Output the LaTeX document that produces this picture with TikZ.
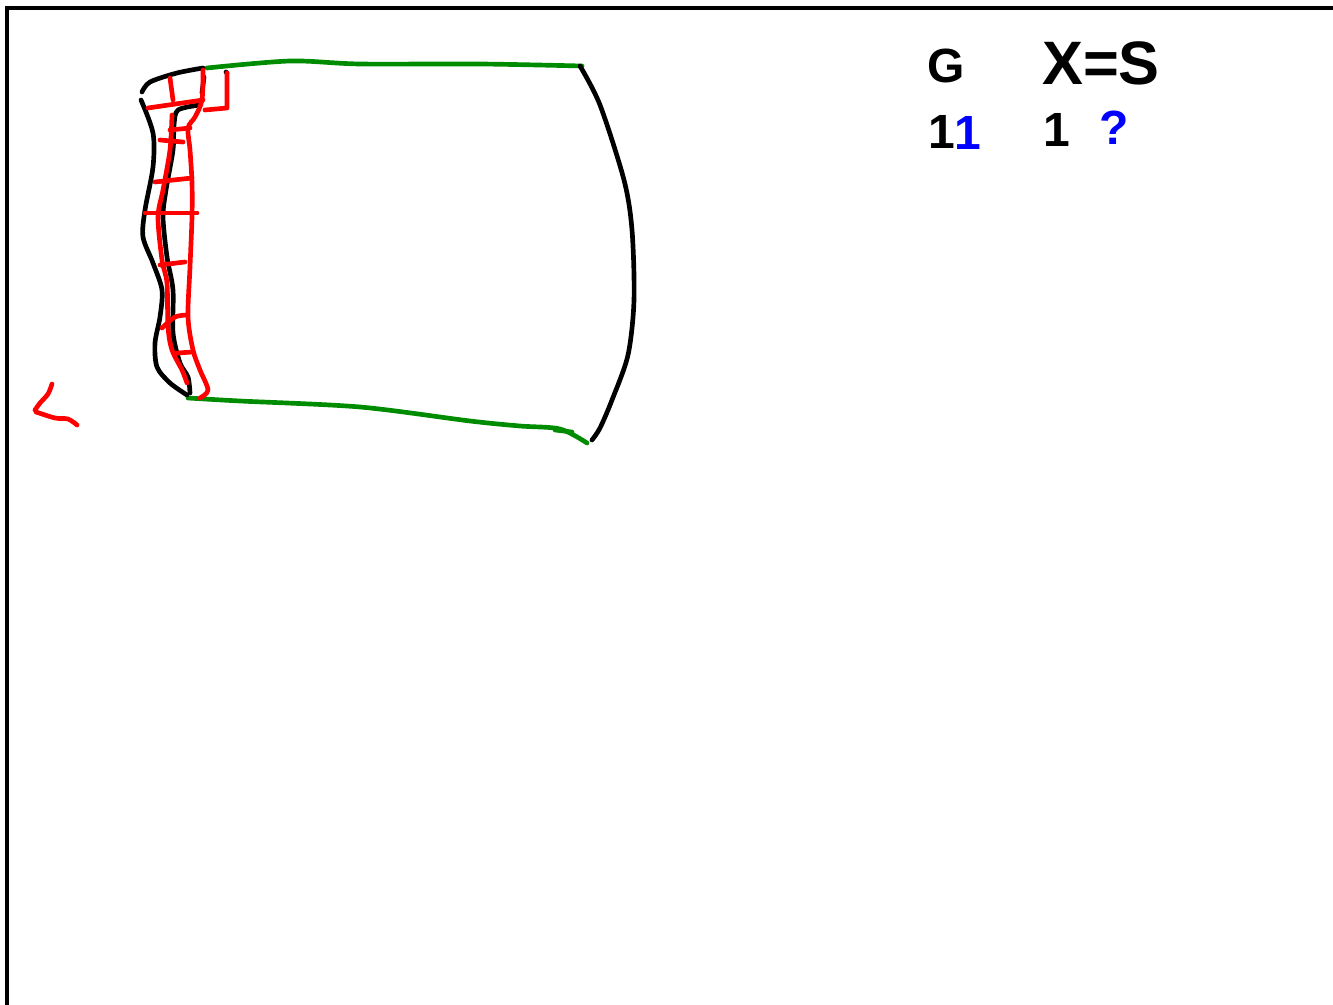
\documentclass[tikz,border=0pt]{standalone}
\usepackage{fontspec}
\setmainfont{Liberation Sans}
\definecolor{penred}{RGB}{255,0,0}
\definecolor{pengreen}{RGB}{0,140,0}
\definecolor{penblue}{RGB}{0,0,255}
\begin{document}
\begin{tikzpicture}[x=0.75pt,y=-0.75pt,
  pen/.style={line width=3.5pt,line cap=round,line join=round},
  blk/.style={pen,black},
  rd/.style={pen,penred},
  gr/.style={pen,pengreen},
  lbl/.style={inner sep=0pt,font=\bfseries\fontsize{36}{38}\selectfont}]
\useasboundingbox (0,0) rectangle (1333,1005);
% frame
\draw[line width=2.4pt] (7,1006) -- (7,8) -- (1334,8);
% top green edge
\draw[gr] plot[smooth] coordinates {(207,68) (290,61) (360,64) (480,64) (582,66)};
% right black edge
\draw[blk] plot[smooth] coordinates {(580,66) (600,105) (624,180) (632,230) (634,300) (628,355) (612,400) (600,428) (592,440)};
% bottom green edge
\draw[gr] plot[smooth] coordinates {(188,398) (240,401) (360,407) (470,421) (520,426) (560,429) (587,443)};
\draw[gr] (555,430) -- (572,432);
% left outer black
\draw[blk] plot[smooth] coordinates {(142,92) (150,82) (177,73) (203,68)};
\draw[blk] plot[smooth] coordinates {(141,100) (153,133) (153,167) (145,210) (143,237) (153,263) (162,290) (160,317) (155,343) (157,367) (170,383) (187,395)};
% left inner black
\draw[blk] plot[smooth] coordinates {(200,105) (178,110) (174,125) (173,150) (166,190) (163,217) (167,257) (173,290) (173,333) (180,363) (188,377) (190,393)};
\draw[blk] (204,77) -- (202,93);
\draw[blk] (226,72) -- (227,73);
% red grid
\draw[rd] plot[smooth] coordinates {(203,70) (202,100) (195,117) (188,128) (190,150) (192,183) (192,217) (190,267) (188,317) (193,350) (200,370) (208,390) (200,398)};
\draw[rd] plot[smooth] coordinates {(172,115) (170,150) (163,190) (158,217) (162,260) (167,283) (168,327) (172,350) (182,370) (187,383)};
\draw[rd] (170,78) -- (173,100);
\draw[rd] (227,73) -- (227,108) -- (205,110);
\draw[rd] (148,108) -- (203,100);
\draw[rd] (170,130) -- (190,128);
\draw[rd] (160,140) -- (183,142);
\draw[rd] (155,182) -- (192,178);
\draw[rd] (145,213) -- (197,213);
\draw[rd] (160,265) -- (185,262);
\draw[rd] plot[smooth] coordinates {(162,328) (175,317) (187,315)};
\draw[rd] (177,353) -- (193,352);
% red L mark
\draw[rd] plot[smooth] coordinates {(52,384) (48,394) (40,403) (35,410)};
\draw[rd] plot[smooth] coordinates {(36,412) (55,418) (68,419) (77,425)};
% labels
\node[lbl] (g) at (946,66) {G};
\node[lbl,font=\bfseries\fontsize{46}{48}\selectfont] (xs) at (1101,63) {X=S};
\node[lbl] (one1) at (942,132) {1};
\node[lbl,text=penblue] (one2) at (968,133) {1};
\node[lbl] (one3) at (1057,130) {1};
\node[lbl,text=penblue] (q) at (1114,128) {?};
\end{tikzpicture}
\end{document}
